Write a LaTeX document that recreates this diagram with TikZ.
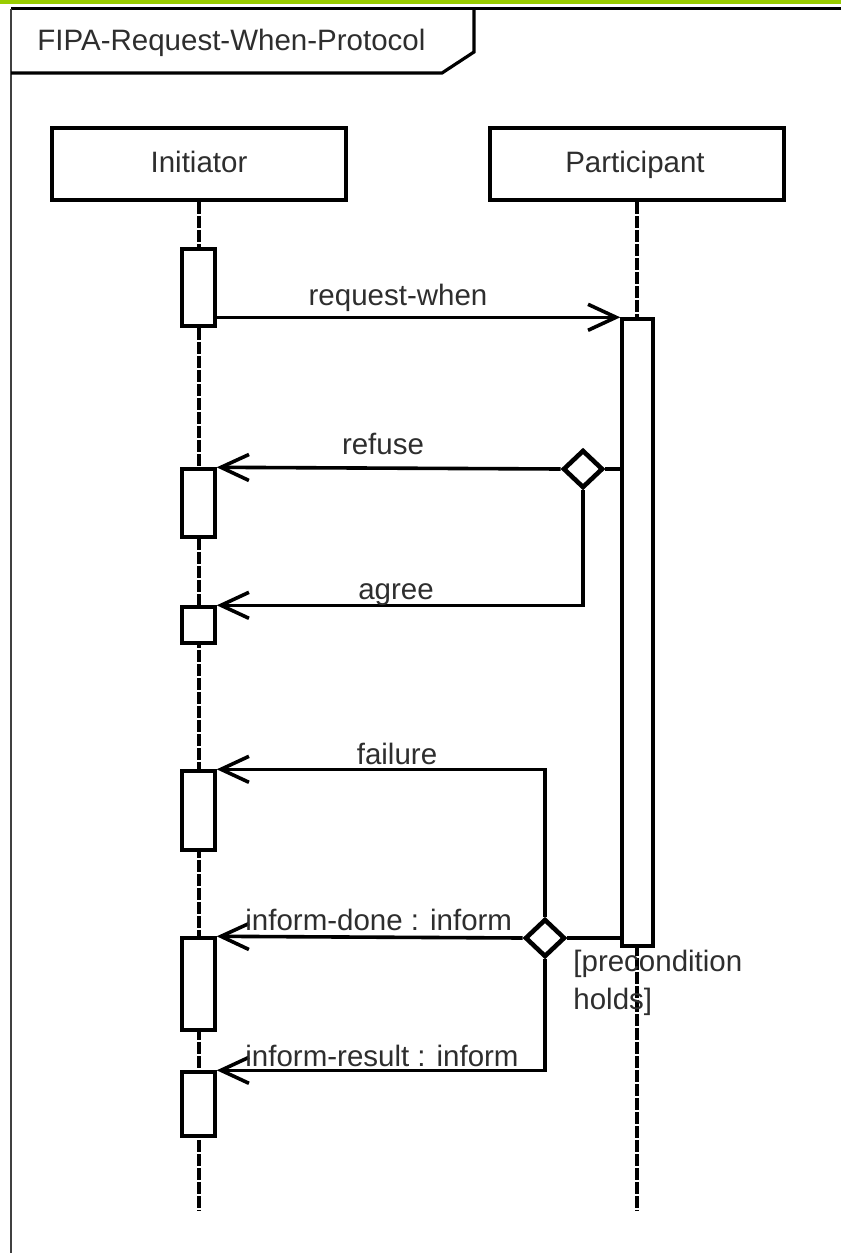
\documentclass[tikz,border=0pt]{standalone}
\usepackage{fontspec}
\setmainfont{Liberation Sans}
\usepackage{xcolor}
\usepackage{tikz}
\usetikzlibrary{shapes.geometric,arrows.meta,fit}
\definecolor{bargreen}{HTML}{99CC00}
\definecolor{txtgray}{HTML}{2E2E2E}

\begin{document}
\begin{tikzpicture}[x=0.5pt, y=-0.5pt,
    every node/.style={font=\fontsize{14.75pt}{19pt}\selectfont, text=txtgray},
    head/.style={draw, line width=1.8pt, inner sep=0pt},
    act/.style={draw, fill=white, line width=1.7pt, inner sep=0pt},
    life/.style={line width=1.6pt, dash pattern=on 6pt off 1pt},
    link/.style={line width=1.8pt},
    msg/.style={link, -{Straight Barb[length=14pt, width=13pt]}},
    choice/.style={diamond, draw, fill=white, line width=2.3pt, minimum width=20pt, minimum height=19pt, inner sep=0pt},
    lbl/.style={anchor=base}]
    \useasboundingbox (0,0) rectangle (841,1253);

    % frame and title tab
    \fill[bargreen] (0,0) rectangle (841,3.5);
    \draw[line width=1.6pt] (841,8.5) -- (11,8.5);
    \draw[line width=1pt, black!75] (11,8.5) -- (11,1253);
    \draw[line width=1.6pt] (11,73) -- (442,73) -- (474,52) -- (474,8.5);
    \node[anchor=base west, inner sep=0pt] (title) at (37,50) {FIPA-Request-When-Protocol};

    % lifelines
    \node[head, fit={(52,128) (346,200)}] (init) {};
    \node[head, fit={(490,128) (784,200)}] (part) {};
    \node[lbl] (initname) at (199,172) {Initiator};
    \node[lbl] (partname) at (635,172) {Participant};
    \coordinate (bottom) at (0,1210);
    \draw[life] (init.south) -- (init.south |- bottom);
    \draw[life] (part.south) -- (part.south |- bottom);

    % activations
    \node[act, fit={(182,249) (215,326)}] (a1) {};
    \node[act, fit={(182,469) (215,537)}] (a2) {};
    \node[act, fit={(182,607) (215,643)}] (a3) {};
    \node[act, fit={(182,771) (215,850)}] (a4) {};
    \node[act, fit={(182,938) (215,1030)}] (a5) {};
    \node[act, fit={(182,1072) (215,1136)}] (a6) {};
    \node[act, fit={(622,319) (653,946)}] (p1) {};

    % choices
    \node[choice] (d1) at (583,469) {};
    \node[choice] (d2) at (545,938) {};

    % messages
    \draw[msg] (a1.east |- p1.north) -- (p1.north west);
    \draw[link] (p1.west |- d1) -- (d1.east);
    \draw[msg] (d1.west) -- (a2.north east);
    \draw[msg] (d1.south) |- (a3.north east);
    \draw[msg] (d2.north) |- (a4.north east);
    \draw[link] (p1.west |- d2) -- (d2.east);
    \draw[msg] (d2.west) -- (a5.north east);
    \draw[msg] (d2.south) |- (a6.north east);

    \node[lbl] (lreq) at (398,305) {request-when};
    \node[lbl] (lref) at (383,454) {refuse};
    \node[lbl] (lagr) at (396,599) {agree};
    \node[lbl] (lfail) at (397,764) {failure};
    \node[lbl, anchor=base west, inner sep=0pt] (ldone) at (245,930) {inform-done : inform};
    \node[lbl, anchor=base west, inner sep=0pt] (lres) at (245,1066) {inform-result : inform};
    \node[anchor=north west, align=left, inner sep=0pt] (lcond) at (573,950) {[precondition\\holds]};
\end{tikzpicture}
\end{document}
